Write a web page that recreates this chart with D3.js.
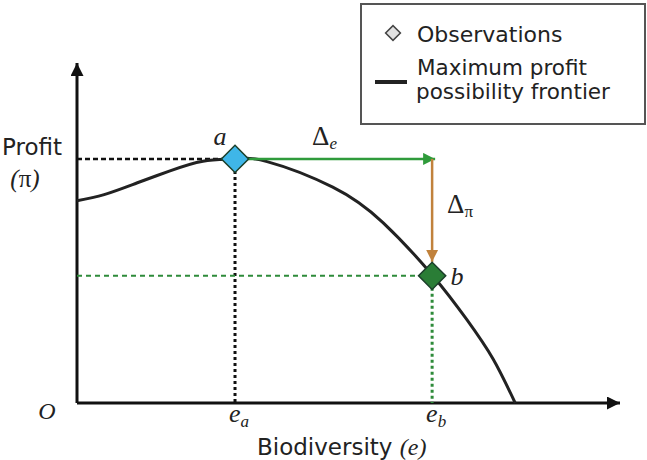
<!DOCTYPE html>
<html>
<head>
<meta charset="utf-8">
<script src="https://cdn.jsdelivr.net/npm/d3@7"></script>
<style>
    body { margin: 0; background: #fff; }
    text { font-family: "DejaVu Sans", sans-serif; fill: #222; }
    .serif { font-family: "Liberation Serif", "DejaVu Serif", serif; }
    .it { font-style: italic; }
</style>
</head>
<body>
<svg id="chart" width="647" height="460"></svg>
<script>
    // frontier curve (biodiversity e, profit pi) in chart units 0..100
    const frontierE  = [0, 5, 11, 17, 23.2, 29.1, 35.0, 47.1, 56.4, 65.6, 71.8, 76.6, 80.7];
    const frontierPi = [59.5, 61.3, 64.7, 68.2, 71.1, 71.8, 71.0, 63.5, 53.0, 37.3, 24.5, 13.0, 0];
    // the two observations
    const obsNames = ["a", "b"];
    const obsE     = [29.1, 65.4];
    const obsPi    = [71.8, 37.4];
    const obsFill  = ["#3fb6e8", "#2a7d36"];
    const tickLabels = [["e", "a"], ["e", "b"]];

    const svg = d3.select("#chart");
    const x = d3.scaleLinear().domain([0, 100]).range([77, 620]);
    const y = d3.scaleLinear().domain([0, 100]).range([403, 63]);

    const defs = svg.append("defs");
    function marker(id, color, w, h) {
        defs.append("marker")
            .attr("id", id)
            .attr("viewBox", "0 0 10 10")
            .attr("refX", 10).attr("refY", 5)
            .attr("markerUnits", "userSpaceOnUse")
            .attr("markerWidth", w).attr("markerHeight", h)
            .attr("orient", "auto")
            .append("path")
            .attr("d", "M0,0 L10,5 L0,10 Z")
            .attr("fill", color);
    }
    marker("axisHead", "#111", 15, 13);
    marker("greenHead", "#2f9b3b", 15, 12);
    marker("brownHead", "#c1823c", 12, 15);

    // axes
    svg.append("line")
        .attr("x1", x(0)).attr("y1", y(0)).attr("x2", x(0)).attr("y2", y(100))
        .attr("stroke", "#111").attr("stroke-width", 3)
        .attr("marker-end", "url(#axisHead)");
    svg.append("line")
        .attr("x1", x(0)).attr("y1", y(0)).attr("x2", x(100)).attr("y2", y(0))
        .attr("stroke", "#111").attr("stroke-width", 3)
        .attr("marker-end", "url(#axisHead)");

    const a = { e: obsE[0], p: obsPi[0] };
    const b = { e: obsE[1], p: obsPi[1] };

    // guide lines
    svg.append("line")
        .attr("x1", x(0)).attr("y1", y(a.p)).attr("x2", x(a.e)).attr("y2", y(a.p))
        .attr("stroke", "#111").attr("stroke-width", 2.5).attr("stroke-dasharray", "5,3");
    svg.append("line")
        .attr("x1", x(a.e)).attr("y1", y(a.p)).attr("x2", x(a.e)).attr("y2", y(0))
        .attr("stroke", "#111").attr("stroke-width", 3).attr("stroke-dasharray", "3,3");
    svg.append("line")
        .attr("x1", x(0)).attr("y1", y(b.p)).attr("x2", x(b.e)).attr("y2", y(b.p))
        .attr("stroke", "#2e8b3a").attr("stroke-width", 2).attr("stroke-dasharray", "5,4");
    svg.append("line")
        .attr("x1", x(b.e)).attr("y1", y(b.p)).attr("x2", x(b.e)).attr("y2", y(0))
        .attr("stroke", "#2e8b3a").attr("stroke-width", 3).attr("stroke-dasharray", "3,3");

    // frontier
    const line = d3.line()
        .x((d, i) => x(frontierE[i]))
        .y((d, i) => y(frontierPi[i]))
        .curve(d3.curveNatural);
    svg.append("path")
        .datum(frontierE)
        .attr("d", line)
        .attr("fill", "none")
        .attr("stroke", "#222")
        .attr("stroke-width", 3);

    // delta arrows
    svg.append("line")
        .attr("x1", x(a.e)).attr("y1", y(a.p)).attr("x2", x(b.e) + 3).attr("y2", y(a.p))
        .attr("stroke", "#2f9b3b").attr("stroke-width", 2.5)
        .attr("marker-end", "url(#greenHead)");
    svg.append("line")
        .attr("x1", x(b.e)).attr("y1", y(a.p)).attr("x2", x(b.e)).attr("y2", y(b.p) - 14)
        .attr("stroke", "#c1823c").attr("stroke-width", 2.5)
        .attr("marker-end", "url(#brownHead)");

    // observation diamonds
    const diamond = d3.symbol().type(d3.symbolSquare).size(370);
    svg.selectAll(".obs")
        .data(obsNames)
        .join("path")
        .attr("class", "obs")
        .attr("d", diamond)
        .attr("transform", (d, i) => `translate(${x(obsE[i])},${y(obsPi[i])}) rotate(45)`)
        .attr("fill", (d, i) => obsFill[i])
        .attr("stroke", "#1b3f2a")
        .attr("stroke-width", 1.5);

    // point labels
    svg.append("text").attr("class", "serif it")
        .attr("x", x(a.e) - 15).attr("y", y(a.p) - 14)
        .attr("text-anchor", "middle").attr("font-size", 26).text("a");
    svg.append("text").attr("class", "serif it")
        .attr("x", x(b.e) + 25).attr("y", y(b.p) + 9)
        .attr("text-anchor", "middle").attr("font-size", 26).text("b");

    // delta labels
    const de = svg.append("text").attr("class", "serif")
        .attr("x", x((a.e + b.e) / 2) - 9).attr("y", y(a.p) - 14)
        .attr("font-size", 27).attr("text-anchor", "middle");
    de.append("tspan").text("\u0394");
    de.append("tspan").attr("class", "it").attr("font-size", 17).attr("dy", 4).text("e");
    const dp = svg.append("text").attr("class", "serif")
        .attr("x", x(b.e) + 15).attr("y", 213)
        .attr("font-size", 27);
    dp.append("tspan").text("\u0394");
    dp.append("tspan").attr("font-size", 17).attr("dy", 4).text("\u03c0");

    // axis tick labels
    svg.selectAll(".tick")
        .data(tickLabels)
        .join("text")
        .attr("class", "tick serif it")
        .attr("x", (d, i) => x(obsE[i]) - 6)
        .attr("y", 422)
        .attr("font-size", 26)
        .each(function (d) {
            d3.select(this).append("tspan").text(d[0]);
            d3.select(this).append("tspan").attr("font-size", 17).attr("dy", 5).text(d[1]);
        });

    svg.append("text").attr("class", "serif it")
        .attr("x", 47).attr("y", 419).attr("text-anchor", "middle")
        .attr("font-size", 24).text("O");

    // axis titles
    const xt = svg.append("text").attr("x", 257).attr("y", 455).attr("font-size", 23);
    xt.append("tspan").text("Biodiversity ");
    xt.append("tspan").attr("class", "serif it").attr("font-size", 24).text("(e)");
    svg.append("text").attr("x", 62).attr("y", 155).attr("text-anchor", "end")
        .attr("font-size", 23).text("Profit");
    const pt = svg.append("text").attr("class", "serif")
        .attr("x", 25).attr("y", 187).attr("text-anchor", "middle")
        .attr("font-size", 25);
    pt.append("tspan").attr("class", "it").text("(");
    pt.append("tspan").text("\u03c0");
    pt.append("tspan").attr("class", "it").text(")");

    // legend
    const lg = svg.append("g");
    lg.append("rect").attr("x", 361).attr("y", 4).attr("width", 284).attr("height", 120)
        .attr("fill", "#fff").attr("stroke", "#555").attr("stroke-width", 2);
    lg.append("path")
        .attr("d", d3.symbol().type(d3.symbolSquare).size(110))
        .attr("transform", "translate(393,33) rotate(45)")
        .attr("fill", "#e2e2e2").attr("stroke", "#444").attr("stroke-width", 1.5);
    lg.append("text").attr("x", 417).attr("y", 42).attr("font-size", 22).text("Observations");
    lg.append("line").attr("x1", 375).attr("x2", 407).attr("y1", 82).attr("y2", 82)
        .attr("stroke", "#222").attr("stroke-width", 4);
    lg.append("text").attr("x", 417).attr("y", 75).attr("font-size", 21.5).text("Maximum profit");
    lg.append("text").attr("x", 416).attr("y", 99).attr("font-size", 21.5).text("possibility frontier");
</script>
</body>
</html>
